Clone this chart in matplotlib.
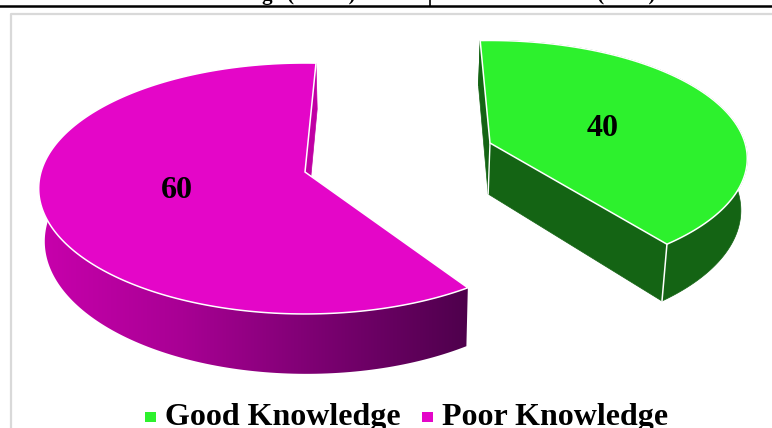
import matplotlib
matplotlib.use('Agg')
from matplotlib import pyplot as plt
from matplotlib.colors import LinearSegmentedColormap
from matplotlib.patches import Polygon, Rectangle
import numpy as np

labels = ['Good Knowledge', 'Poor Knowledge']
values = [40, 60]
top_colors = ['#2df12d', '#e406c8']
wall_green = '#146414'
wall_magenta = '#c000a4'

SERIF = 'Liberation Serif'
PERSP = 0.1315
VX = 385
VS = 0.0176


def project(cx, cy, a, b, theta, depth=0):
    # perspective view of a point on the pie disc, depth pushes it down
    th = np.radians(theta)
    u, v = np.sin(th), np.cos(th)
    w = 1 + PERSP * v
    x = cx + a * u / w
    y = cy - b * v / w
    if depth:
        x = x + (VX - x) * VS
        y = y + depth / w
    return np.column_stack([x, y])


def centre(cx, cy, depth=0):
    x, y = cx, cy
    if depth:
        x = x + (VX - x) * VS
        y = y + depth
    return np.array([[x, y]])


fig = plt.figure(figsize=(7.72, 4.28), dpi=100)
ax = fig.add_axes((0, 0, 1, 1))

# slices: centre, radii, first angle (exploded so each has its own spot)
slices = [
    dict(cx=490, cy=143, a=255, b=116, start=-2.5, depth=51),
    dict(cx=305, cy=172, a=264, b=123.3, start=146.7, depth=52),
]
label_pos = [(603, 129), (177, 190)]

for i, s in enumerate(slices):
    sweep = values[i] / sum(values) * 360
    angles = np.linspace(s['start'], s['start'] + sweep, 200)
    top = project(s['cx'], s['cy'], s['a'], s['b'], angles)
    bottom = project(s['cx'], s['cy'], s['a'], s['b'], angles, s['depth'])
    apex = centre(s['cx'], s['cy'])
    apex_b = centre(s['cx'], s['cy'], s['depth'])

    outer = np.vstack([top, bottom[::-1]])
    first_wall = np.vstack([apex, top[:1], bottom[:1], apex_b])
    last_wall = np.vstack([apex, top[-1:], bottom[-1:], apex_b])

    if i == 0:
        ax.add_patch(Polygon(outer, fc=wall_green, ec=wall_green, lw=0.5))
        ax.add_patch(Polygon(first_wall, fc=wall_green, ec=wall_green, lw=0.5))
        ax.add_patch(Polygon(last_wall, fc=wall_green, ec=wall_green, lw=0.5))
        ax.plot(last_wall[1:3, 0], last_wall[1:3, 1], color='white', lw=1.1)
        ax.plot([apex[0, 0], apex_b[0, 0]], [apex[0, 1], apex_b[0, 1]], color='white', lw=1.0)
    else:
        # the cut face that looks right, mostly hidden by the top
        ax.add_patch(Polygon(last_wall, fc=wall_magenta, ec=wall_magenta, lw=0.5))
        clip = Polygon(outer, transform=ax.transData, fc='none', ec='none')
        ax.add_patch(clip)
        cmap = LinearSegmentedColormap.from_list('wall', ['#c800ac', '#a80094', '#7a0070', '#4e004c'])
        grad = np.linspace(0, 1, 256).reshape(1, -1)
        im = ax.imshow(grad, cmap=cmap, extent=(outer[:, 0].min(), outer[:, 0].max(), 400, 180), aspect='auto')
        im.set_clip_path(clip)

    face = np.vstack([apex, top])
    ax.add_patch(Polygon(face, fc=top_colors[i], ec='white', lw=1.1, zorder=3))
    ax.text(label_pos[i][0], label_pos[i][1], str(values[i]), family=SERIF, weight='bold',
            fontsize=23, ha='center', va='center', color='black', zorder=4)

# chart frame
ax.plot([10.5, 10.5, 772], [428, 13.5, 13.5], color='#d9d9d9', lw=1.6)

# bottom of the table above the chart
ax.plot([0, 772], [5.5, 5.5], color='black', lw=1.8)
ax.plot([430, 430], [0, 5.5], color='black', lw=1.2)
ax.text(355, 0, 'Knowledge (n=100)', family=SERIF, weight='bold', fontsize=15, ha='right', va='baseline', clip_on=True)
ax.text(524, 0, 'Percent (n=60)', family=SERIF, weight='bold', fontsize=15, ha='left', va='baseline', clip_on=True)

# legend
leg_x = [145, 422]
for i, name in enumerate(labels):
    ax.add_patch(Rectangle((leg_x[i], 412), 10.5, 10, fc=top_colors[i], ec='none'))
    ax.text(leg_x[i] + 20, 425, name, family=SERIF, weight='bold', fontsize=23,
            ha='left', va='baseline', color='black')

ax.set_xlim(0, 772)
ax.set_ylim(428, 0)
ax.axis('off')
fig.savefig('out.png', dpi=100)
